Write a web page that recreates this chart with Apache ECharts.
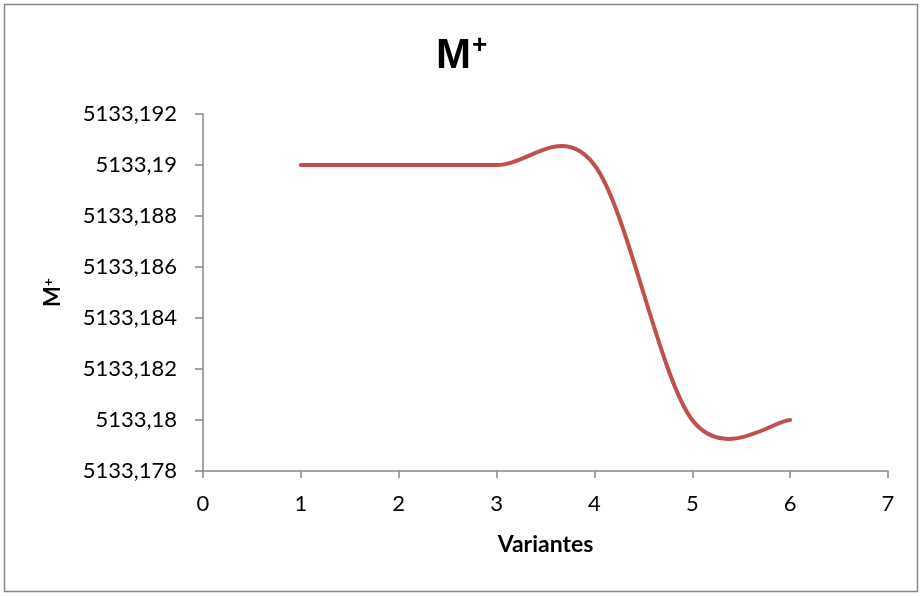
<!DOCTYPE html>
<html>
<head>
<meta charset="utf-8">
<script src="https://cdn.jsdelivr.net/npm/echarts@6/dist/echarts.min.js"></script>
<style>
html,body{margin:0;padding:0;background:#fff;}
#c{width:923px;height:596px;}
</style>
</head>
<body>
<div id="c"></div>
<script>
const variantes = [1, 2, 3, 4, 5, 6];
const mPlus = [5133.19, 5133.19, 5133.19, 5133.19, 5133.18, 5133.18];
const yMin = 5133.178, yMax = 5133.192, yStep = 0.002;
const xMin = 0, xMax = 7, xStep = 1;

function fmt(v) {
  let s = v.toFixed(3).replace(/0+$/, '').replace(/\.$/, '');
  return s.replace('.', ',');
}

const points = variantes.map((x, i) => [x, mPlus[i]]);

// Excel-style smoothed line (Catmull-Rom bezier through the data points, in pixel space)
function renderSegment(params, api) {
  const i = params.dataIndex;
  const n = points.length;
  if (i >= n - 1) return null;
  const P = k => api.coord(points[Math.max(0, Math.min(n - 1, k))]);
  const p0 = P(i - 1), p1 = P(i), p2 = P(i + 1), p3 = P(i + 2);
  const t = 1 / 6;
  return {
    type: 'bezierCurve',
    shape: {
      x1: p1[0], y1: p1[1],
      x2: p2[0], y2: p2[1],
      cpx1: p1[0] + (p2[0] - p0[0]) * t, cpy1: p1[1] + (p2[1] - p0[1]) * t,
      cpx2: p2[0] - (p3[0] - p1[0]) * t, cpy2: p2[1] - (p3[1] - p1[1]) * t
    },
    style: {fill: null, stroke: '#c0504d', lineWidth: 4, lineCap: 'round'}
  };
}

const chart = echarts.init(document.getElementById('c'), null, {renderer: 'canvas'});
const font = 'Lato, "Open Sans", sans-serif';
chart.setOption({
  animation: false,
  backgroundColor: '#fff',
  title: {
    text: '{a|M}{b|+}',
    left: 'center',
    top: 28,
    textStyle: {
      rich: {
        a: {fontSize: 42, fontWeight: 'bold', color: '#000', fontFamily: '"Liberation Sans", Arial, sans-serif', lineHeight: 46},
        b: {fontSize: 26, fontWeight: 'bold', color: '#000', fontFamily: '"Liberation Sans", Arial, sans-serif', verticalAlign: 'top', lineHeight: 26, padding: [0, 0, 0, 1]}
      }
    }
  },
  graphic: [{
    type: 'rect',
    shape: {x: 4.5, y: 4.5, width: 913, height: 587},
    style: {fill: 'none', stroke: '#898989', lineWidth: 1.5},
    silent: true
  }],
  grid: {left: 203, right: 35, top: 114, bottom: 125},
  xAxis: {
    type: 'value',
    min: xMin, max: xMax, interval: xStep,
    name: 'Variantes',
    nameLocation: 'middle',
    nameGap: 62,
    nameTextStyle: {fontSize: 23, fontWeight: 'bold', color: '#000', fontFamily: font},
    axisLine: {lineStyle: {color: '#868686', width: 1.5}},
    axisTick: {show: true, length: 7, lineStyle: {color: '#868686', width: 1.5}},
    axisLabel: {fontSize: 22, color: '#000', margin: 22, fontFamily: font},
    splitLine: {show: false}
  },
  yAxis: {
    type: 'value',
    min: yMin, max: yMax, interval: yStep,
    name: '{a|M}{b|+}',
    nameLocation: 'middle',
    nameRotate: 90,
    nameGap: 138,
    nameTextStyle: {
      rich: {
        a: {fontSize: 22, fontWeight: 'bold', color: '#000', fontFamily: font, lineHeight: 24},
        b: {fontSize: 14, fontWeight: 'bold', color: '#000', fontFamily: font, verticalAlign: 'top', lineHeight: 14}
      }
    },
    axisLine: {show: true, lineStyle: {color: '#868686', width: 1.5}},
    axisTick: {show: true, length: 8, lineStyle: {color: '#868686', width: 1.5}},
    axisLabel: {fontSize: 22, color: '#000', margin: 26, fontFamily: font, formatter: fmt},
    splitLine: {show: false}
  },
  series: [{
    type: 'custom',
    coordinateSystem: 'cartesian2d',
    data: points,
    encode: {x: 0, y: 1},
    renderItem: renderSegment,
    clip: false
  }]
});
</script>
</body>
</html>
